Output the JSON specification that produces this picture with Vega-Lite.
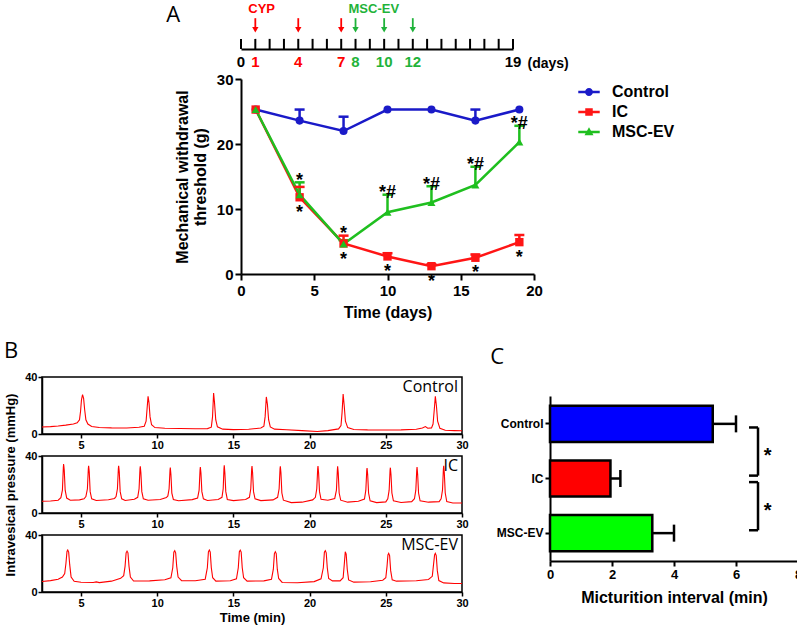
{
  "$schema": "https://vega.github.io/schema/vega-lite/v6.json",
  "padding": {"left": 4, "top": 3, "right": 0, "bottom": 0},
  "config": {
    "font": "Liberation Sans",
    "view": {"stroke": null},
    "axis": {"grid": false, "domainColor": "black", "tickColor": "black", "labelColor": "black", "titleColor": "black", "labelFontWeight": "bold", "titleFontWeight": "bold", "labelFlush": false, "labelOverlap": false, "domainWidth": 2, "tickWidth": 2},
    "title": {"font": "Open Sans", "fontWeight": "normal", "fontSize": 22, "color": "black", "anchor": "start", "frame": "bounds"}
  },
  "datasets": {
    "mwt": [
      {"day": 1, "group": "Control", "mean": 25.3},
      {"day": 4, "group": "Control", "mean": 23.6, "top": 25.3},
      {"day": 7, "group": "Control", "mean": 22.0, "top": 24.2},
      {"day": 10, "group": "Control", "mean": 25.3},
      {"day": 13, "group": "Control", "mean": 25.3},
      {"day": 16, "group": "Control", "mean": 23.6, "top": 25.3},
      {"day": 19, "group": "Control", "mean": 25.3},
      {"day": 1, "group": "IC", "mean": 25.3},
      {"day": 4, "group": "IC", "mean": 11.8, "top": 13.4, "below": "*"},
      {"day": 7, "group": "IC", "mean": 4.7, "top": 5.9, "above": "*"},
      {"day": 10, "group": "IC", "mean": 2.7, "top": 3.2, "below": "*"},
      {"day": 13, "group": "IC", "mean": 1.2, "top": 1.5, "below": "*"},
      {"day": 16, "group": "IC", "mean": 2.5, "top": 3.0, "below": "*"},
      {"day": 19, "group": "IC", "mean": 4.9, "top": 6.0, "below": "*"},
      {"day": 1, "group": "MSC-EV", "mean": 25.3},
      {"day": 4, "group": "MSC-EV", "mean": 12.2, "top": 14.1, "above": "*"},
      {"day": 7, "group": "MSC-EV", "mean": 4.6, "top": 5.2, "below": "*"},
      {"day": 10, "group": "MSC-EV", "mean": 9.5, "top": 12.2, "above": "*#"},
      {"day": 13, "group": "MSC-EV", "mean": 11.0, "top": 13.5, "above": "*#"},
      {"day": 16, "group": "MSC-EV", "mean": 13.7, "top": 16.5, "above": "*#"},
      {"day": 19, "group": "MSC-EV", "mean": 20.3, "top": 22.8, "above": "*#"}
    ],
    "timeline": [
      {"day": 0}, {"day": 1}, {"day": 2}, {"day": 3}, {"day": 4}, {"day": 5}, {"day": 6}, {"day": 7}, {"day": 8}, {"day": 9},
      {"day": 10}, {"day": 11}, {"day": 12}, {"day": 13}, {"day": 14}, {"day": 15}, {"day": 16}, {"day": 17}, {"day": 18}, {"day": 19}
    ],
    "injections": [
      {"day": 1, "agent": "CYP"}, {"day": 4, "agent": "CYP"}, {"day": 7, "agent": "CYP"},
      {"day": 8, "agent": "MSC-EV"}, {"day": 10, "agent": "MSC-EV"}, {"day": 12, "agent": "MSC-EV"}
    ],
    "interval": [
      {"group": "Control", "mean": 5.25, "err": 6.0},
      {"group": "IC", "mean": 1.95, "err": 2.27},
      {"group": "MSC-EV", "mean": 3.3, "err": 4.0}
    ],
    "comparisons": [
      {"a": "Control", "b": "IC", "sig": "*"},
      {"a": "IC", "b": "MSC-EV", "sig": "*"}
    ],
    "trace": [
      {"panel": "Control", "t": 2.44, "p": 4.9}, {"panel": "Control", "t": 3.0, "p": 5.2}, {"panel": "Control", "t": 3.5, "p": 5.6}, {"panel": "Control", "t": 4.0, "p": 6.2}, {"panel": "Control", "t": 4.5, "p": 7.0}, {"panel": "Control", "t": 4.75, "p": 7.8}, {"panel": "Control", "t": 4.9, "p": 10}, {"panel": "Control", "t": 4.97, "p": 16}, {"panel": "Control", "t": 5.03, "p": 24}, {"panel": "Control", "t": 5.1, "p": 27.6}, {"panel": "Control", "t": 5.17, "p": 25}, {"panel": "Control", "t": 5.24, "p": 17}, {"panel": "Control", "t": 5.32, "p": 10}, {"panel": "Control", "t": 5.45, "p": 7}, {"panel": "Control", "t": 5.7, "p": 5.3}, {"panel": "Control", "t": 6.2, "p": 4.6}, {"panel": "Control", "t": 7.0, "p": 4.3}, {"panel": "Control", "t": 8.0, "p": 4.2}, {"panel": "Control", "t": 8.8, "p": 4.7}, {"panel": "Control", "t": 9.15, "p": 5.5}, {"panel": "Control", "t": 9.27, "p": 9}, {"panel": "Control", "t": 9.33, "p": 17}, {"panel": "Control", "t": 9.4, "p": 26.4}, {"panel": "Control", "t": 9.46, "p": 22}, {"panel": "Control", "t": 9.53, "p": 12}, {"panel": "Control", "t": 9.63, "p": 6.5}, {"panel": "Control", "t": 9.85, "p": 4.5}, {"panel": "Control", "t": 10.5, "p": 4.0}, {"panel": "Control", "t": 11.5, "p": 3.9}, {"panel": "Control", "t": 12.5, "p": 3.7}, {"panel": "Control", "t": 13.3, "p": 3.8}, {"panel": "Control", "t": 13.55, "p": 4.8}, {"panel": "Control", "t": 13.63, "p": 12}, {"panel": "Control", "t": 13.7, "p": 28.8}, {"panel": "Control", "t": 13.76, "p": 22}, {"panel": "Control", "t": 13.84, "p": 10}, {"panel": "Control", "t": 13.95, "p": 5}, {"panel": "Control", "t": 14.3, "p": 3.4}, {"panel": "Control", "t": 15.0, "p": 3.1}, {"panel": "Control", "t": 16.0, "p": 3.3}, {"panel": "Control", "t": 16.8, "p": 4.2}, {"panel": "Control", "t": 17.0, "p": 5.5}, {"panel": "Control", "t": 17.08, "p": 12}, {"panel": "Control", "t": 17.16, "p": 26}, {"panel": "Control", "t": 17.23, "p": 21}, {"panel": "Control", "t": 17.31, "p": 10}, {"panel": "Control", "t": 17.42, "p": 5}, {"panel": "Control", "t": 17.7, "p": 3.4}, {"panel": "Control", "t": 18.5, "p": 3.0}, {"panel": "Control", "t": 19.5, "p": 2.4}, {"panel": "Control", "t": 20.5, "p": 1.8}, {"panel": "Control", "t": 21.2, "p": 2.4}, {"panel": "Control", "t": 21.9, "p": 3.6}, {"panel": "Control", "t": 22.06, "p": 6}, {"panel": "Control", "t": 22.13, "p": 15}, {"panel": "Control", "t": 22.2, "p": 28}, {"panel": "Control", "t": 22.27, "p": 20}, {"panel": "Control", "t": 22.35, "p": 9}, {"panel": "Control", "t": 22.5, "p": 4.5}, {"panel": "Control", "t": 22.9, "p": 3.2}, {"panel": "Control", "t": 23.8, "p": 2.9}, {"panel": "Control", "t": 25.0, "p": 2.8}, {"panel": "Control", "t": 26.0, "p": 2.9}, {"panel": "Control", "t": 27.0, "p": 3.3}, {"panel": "Control", "t": 27.4, "p": 4.2}, {"panel": "Control", "t": 27.6, "p": 5.2}, {"panel": "Control", "t": 27.75, "p": 4.0}, {"panel": "Control", "t": 28.0, "p": 4.3}, {"panel": "Control", "t": 28.1, "p": 7}, {"panel": "Control", "t": 28.18, "p": 17}, {"panel": "Control", "t": 28.25, "p": 26.4}, {"panel": "Control", "t": 28.32, "p": 20}, {"panel": "Control", "t": 28.4, "p": 9}, {"panel": "Control", "t": 28.55, "p": 4}, {"panel": "Control", "t": 28.9, "p": 2.6}, {"panel": "Control", "t": 29.5, "p": 2.4}, {"panel": "Control", "t": 30, "p": 2.3},
      {"panel": "IC", "t": 2.44, "p": 8.2}, {"panel": "IC", "t": 3.0, "p": 8.4}, {"panel": "IC", "t": 3.5, "p": 9.0}, {"panel": "IC", "t": 3.68, "p": 10.8}, {"panel": "IC", "t": 3.78, "p": 16}, {"panel": "IC", "t": 3.84, "p": 32}, {"panel": "IC", "t": 3.86, "p": 34.4}, {"panel": "IC", "t": 3.9, "p": 30}, {"panel": "IC", "t": 3.96, "p": 16}, {"panel": "IC", "t": 4.06, "p": 10.5}, {"panel": "IC", "t": 4.3, "p": 9.0}, {"panel": "IC", "t": 4.9, "p": 9.2}, {"panel": "IC", "t": 5.2, "p": 10.0}, {"panel": "IC", "t": 5.32, "p": 11.5}, {"panel": "IC", "t": 5.42, "p": 17}, {"panel": "IC", "t": 5.48, "p": 31}, {"panel": "IC", "t": 5.5, "p": 33.2}, {"panel": "IC", "t": 5.54, "p": 29}, {"panel": "IC", "t": 5.6, "p": 15}, {"panel": "IC", "t": 5.7, "p": 10}, {"panel": "IC", "t": 6.0, "p": 8.8}, {"panel": "IC", "t": 6.8, "p": 9.3}, {"panel": "IC", "t": 7.2, "p": 10.2}, {"panel": "IC", "t": 7.3, "p": 11.5}, {"panel": "IC", "t": 7.39, "p": 17}, {"panel": "IC", "t": 7.45, "p": 31}, {"panel": "IC", "t": 7.47, "p": 33.2}, {"panel": "IC", "t": 7.51, "p": 29}, {"panel": "IC", "t": 7.57, "p": 15}, {"panel": "IC", "t": 7.67, "p": 10}, {"panel": "IC", "t": 7.9, "p": 8.8}, {"panel": "IC", "t": 8.5, "p": 9.6}, {"panel": "IC", "t": 8.72, "p": 11}, {"panel": "IC", "t": 8.81, "p": 17}, {"panel": "IC", "t": 8.87, "p": 31}, {"panel": "IC", "t": 8.89, "p": 32.7}, {"panel": "IC", "t": 8.93, "p": 28}, {"panel": "IC", "t": 8.99, "p": 15}, {"panel": "IC", "t": 9.09, "p": 10}, {"panel": "IC", "t": 9.4, "p": 9.0}, {"panel": "IC", "t": 10.2, "p": 9.5}, {"panel": "IC", "t": 10.6, "p": 10.8}, {"panel": "IC", "t": 10.7, "p": 12}, {"panel": "IC", "t": 10.78, "p": 17}, {"panel": "IC", "t": 10.84, "p": 30}, {"panel": "IC", "t": 10.86, "p": 31.9}, {"panel": "IC", "t": 10.9, "p": 27}, {"panel": "IC", "t": 10.96, "p": 14}, {"panel": "IC", "t": 11.06, "p": 9.5}, {"panel": "IC", "t": 11.4, "p": 8.6}, {"panel": "IC", "t": 12.3, "p": 9.4}, {"panel": "IC", "t": 12.65, "p": 10.5}, {"panel": "IC", "t": 12.75, "p": 16}, {"panel": "IC", "t": 12.81, "p": 30}, {"panel": "IC", "t": 12.83, "p": 32.2}, {"panel": "IC", "t": 12.87, "p": 28}, {"panel": "IC", "t": 12.93, "p": 15}, {"panel": "IC", "t": 13.03, "p": 10}, {"panel": "IC", "t": 13.3, "p": 8.8}, {"panel": "IC", "t": 14.0, "p": 9.5}, {"panel": "IC", "t": 14.25, "p": 11}, {"panel": "IC", "t": 14.33, "p": 17}, {"panel": "IC", "t": 14.38, "p": 31}, {"panel": "IC", "t": 14.4, "p": 33.4}, {"panel": "IC", "t": 14.44, "p": 28}, {"panel": "IC", "t": 14.5, "p": 15}, {"panel": "IC", "t": 14.6, "p": 9.5}, {"panel": "IC", "t": 15.0, "p": 8.7}, {"panel": "IC", "t": 15.8, "p": 9.5}, {"panel": "IC", "t": 16.05, "p": 11}, {"panel": "IC", "t": 16.14, "p": 17}, {"panel": "IC", "t": 16.2, "p": 31}, {"panel": "IC", "t": 16.22, "p": 32.9}, {"panel": "IC", "t": 16.26, "p": 28}, {"panel": "IC", "t": 16.32, "p": 15}, {"panel": "IC", "t": 16.42, "p": 10}, {"panel": "IC", "t": 16.8, "p": 8.7}, {"panel": "IC", "t": 17.6, "p": 9.2}, {"panel": "IC", "t": 17.9, "p": 11}, {"panel": "IC", "t": 18.0, "p": 17}, {"panel": "IC", "t": 18.06, "p": 31}, {"panel": "IC", "t": 18.08, "p": 32.7}, {"panel": "IC", "t": 18.12, "p": 28}, {"panel": "IC", "t": 18.18, "p": 14}, {"panel": "IC", "t": 18.28, "p": 9}, {"panel": "IC", "t": 18.8, "p": 7.3}, {"panel": "IC", "t": 19.5, "p": 7.6}, {"panel": "IC", "t": 20.2, "p": 9.2}, {"panel": "IC", "t": 20.38, "p": 11}, {"panel": "IC", "t": 20.47, "p": 17}, {"panel": "IC", "t": 20.53, "p": 31}, {"panel": "IC", "t": 20.55, "p": 32.9}, {"panel": "IC", "t": 20.59, "p": 28}, {"panel": "IC", "t": 20.65, "p": 15}, {"panel": "IC", "t": 20.75, "p": 9.6}, {"panel": "IC", "t": 21.2, "p": 9.0}, {"panel": "IC", "t": 21.65, "p": 10.2}, {"panel": "IC", "t": 21.76, "p": 16}, {"panel": "IC", "t": 21.82, "p": 30}, {"panel": "IC", "t": 21.84, "p": 32.7}, {"panel": "IC", "t": 21.88, "p": 28}, {"panel": "IC", "t": 21.94, "p": 14}, {"panel": "IC", "t": 22.04, "p": 9}, {"panel": "IC", "t": 22.5, "p": 7.6}, {"panel": "IC", "t": 23.2, "p": 8.2}, {"panel": "IC", "t": 23.6, "p": 9.8}, {"panel": "IC", "t": 23.69, "p": 16}, {"panel": "IC", "t": 23.75, "p": 30}, {"panel": "IC", "t": 23.77, "p": 31.6}, {"panel": "IC", "t": 23.81, "p": 27}, {"panel": "IC", "t": 23.87, "p": 14}, {"panel": "IC", "t": 23.97, "p": 8.5}, {"panel": "IC", "t": 24.4, "p": 7.3}, {"panel": "IC", "t": 25.0, "p": 7.8}, {"panel": "IC", "t": 25.13, "p": 10}, {"panel": "IC", "t": 25.22, "p": 16}, {"panel": "IC", "t": 25.28, "p": 30}, {"panel": "IC", "t": 25.3, "p": 31.8}, {"panel": "IC", "t": 25.34, "p": 27}, {"panel": "IC", "t": 25.4, "p": 14}, {"panel": "IC", "t": 25.5, "p": 8.5}, {"panel": "IC", "t": 26.0, "p": 7.4}, {"panel": "IC", "t": 26.7, "p": 8.0}, {"panel": "IC", "t": 26.88, "p": 10}, {"panel": "IC", "t": 26.97, "p": 16}, {"panel": "IC", "t": 27.03, "p": 30}, {"panel": "IC", "t": 27.05, "p": 32.2}, {"panel": "IC", "t": 27.09, "p": 27}, {"panel": "IC", "t": 27.15, "p": 14}, {"panel": "IC", "t": 27.25, "p": 8.5}, {"panel": "IC", "t": 27.8, "p": 7.6}, {"panel": "IC", "t": 28.5, "p": 8.0}, {"panel": "IC", "t": 28.63, "p": 10}, {"panel": "IC", "t": 28.72, "p": 16}, {"panel": "IC", "t": 28.78, "p": 31}, {"panel": "IC", "t": 28.8, "p": 33.2}, {"panel": "IC", "t": 28.84, "p": 28}, {"panel": "IC", "t": 28.9, "p": 14}, {"panel": "IC", "t": 29.0, "p": 8.0}, {"panel": "IC", "t": 29.4, "p": 7.0}, {"panel": "IC", "t": 30, "p": 7.0},
      {"panel": "MSC-EV", "t": 2.44, "p": 7.4}, {"panel": "MSC-EV", "t": 3.0, "p": 8.0}, {"panel": "MSC-EV", "t": 3.5, "p": 9.0}, {"panel": "MSC-EV", "t": 3.78, "p": 10.5}, {"panel": "MSC-EV", "t": 3.93, "p": 13}, {"panel": "MSC-EV", "t": 4.01, "p": 20}, {"panel": "MSC-EV", "t": 4.08, "p": 28.4}, {"panel": "MSC-EV", "t": 4.13, "p": 29.4}, {"panel": "MSC-EV", "t": 4.19, "p": 28}, {"panel": "MSC-EV", "t": 4.26, "p": 19}, {"panel": "MSC-EV", "t": 4.35, "p": 10.5}, {"panel": "MSC-EV", "t": 4.55, "p": 7.5}, {"panel": "MSC-EV", "t": 5.0, "p": 6.8}, {"panel": "MSC-EV", "t": 5.8, "p": 6.7}, {"panel": "MSC-EV", "t": 6.0, "p": 7.1}, {"panel": "MSC-EV", "t": 6.2, "p": 6.6}, {"panel": "MSC-EV", "t": 7.0, "p": 7.6}, {"panel": "MSC-EV", "t": 7.6, "p": 9.6}, {"panel": "MSC-EV", "t": 7.8, "p": 11.5}, {"panel": "MSC-EV", "t": 7.89, "p": 18}, {"panel": "MSC-EV", "t": 7.96, "p": 27.5}, {"panel": "MSC-EV", "t": 8.02, "p": 28.7}, {"panel": "MSC-EV", "t": 8.08, "p": 27.5}, {"panel": "MSC-EV", "t": 8.15, "p": 18}, {"panel": "MSC-EV", "t": 8.24, "p": 10.5}, {"panel": "MSC-EV", "t": 8.45, "p": 7.7}, {"panel": "MSC-EV", "t": 9.5, "p": 7.8}, {"panel": "MSC-EV", "t": 10.5, "p": 8.6}, {"panel": "MSC-EV", "t": 10.9, "p": 10.0}, {"panel": "MSC-EV", "t": 11.02, "p": 17}, {"panel": "MSC-EV", "t": 11.09, "p": 28}, {"panel": "MSC-EV", "t": 11.15, "p": 29}, {"panel": "MSC-EV", "t": 11.21, "p": 27.5}, {"panel": "MSC-EV", "t": 11.28, "p": 18}, {"panel": "MSC-EV", "t": 11.37, "p": 10.5}, {"panel": "MSC-EV", "t": 11.6, "p": 8.0}, {"panel": "MSC-EV", "t": 12.5, "p": 7.9}, {"panel": "MSC-EV", "t": 13.15, "p": 9.0}, {"panel": "MSC-EV", "t": 13.29, "p": 17}, {"panel": "MSC-EV", "t": 13.36, "p": 28.2}, {"panel": "MSC-EV", "t": 13.42, "p": 29.4}, {"panel": "MSC-EV", "t": 13.48, "p": 28}, {"panel": "MSC-EV", "t": 13.55, "p": 17}, {"panel": "MSC-EV", "t": 13.64, "p": 10}, {"panel": "MSC-EV", "t": 13.85, "p": 7.6}, {"panel": "MSC-EV", "t": 14.8, "p": 7.9}, {"panel": "MSC-EV", "t": 15.2, "p": 9.2}, {"panel": "MSC-EV", "t": 15.32, "p": 17}, {"panel": "MSC-EV", "t": 15.39, "p": 28.3}, {"panel": "MSC-EV", "t": 15.45, "p": 29.4}, {"panel": "MSC-EV", "t": 15.51, "p": 28}, {"panel": "MSC-EV", "t": 15.58, "p": 17}, {"panel": "MSC-EV", "t": 15.67, "p": 10}, {"panel": "MSC-EV", "t": 15.9, "p": 7.6}, {"panel": "MSC-EV", "t": 17.0, "p": 7.8}, {"panel": "MSC-EV", "t": 17.5, "p": 9.0}, {"panel": "MSC-EV", "t": 17.62, "p": 16}, {"panel": "MSC-EV", "t": 17.69, "p": 27}, {"panel": "MSC-EV", "t": 17.75, "p": 28.3}, {"panel": "MSC-EV", "t": 17.81, "p": 27}, {"panel": "MSC-EV", "t": 17.88, "p": 16}, {"panel": "MSC-EV", "t": 17.97, "p": 9.5}, {"panel": "MSC-EV", "t": 18.2, "p": 6.7}, {"panel": "MSC-EV", "t": 19.2, "p": 6.5}, {"panel": "MSC-EV", "t": 20.3, "p": 7.3}, {"panel": "MSC-EV", "t": 20.75, "p": 9.3}, {"panel": "MSC-EV", "t": 20.9, "p": 17}, {"panel": "MSC-EV", "t": 20.97, "p": 28}, {"panel": "MSC-EV", "t": 21.03, "p": 29}, {"panel": "MSC-EV", "t": 21.09, "p": 27.5}, {"panel": "MSC-EV", "t": 21.16, "p": 17}, {"panel": "MSC-EV", "t": 21.25, "p": 9.5}, {"panel": "MSC-EV", "t": 21.5, "p": 7.8}, {"panel": "MSC-EV", "t": 22.0, "p": 7.8}, {"panel": "MSC-EV", "t": 22.2, "p": 10}, {"panel": "MSC-EV", "t": 22.28, "p": 20}, {"panel": "MSC-EV", "t": 22.34, "p": 28.3}, {"panel": "MSC-EV", "t": 22.4, "p": 26.5}, {"panel": "MSC-EV", "t": 22.47, "p": 16}, {"panel": "MSC-EV", "t": 22.56, "p": 8.5}, {"panel": "MSC-EV", "t": 22.9, "p": 6.9}, {"panel": "MSC-EV", "t": 24.0, "p": 7.2}, {"panel": "MSC-EV", "t": 24.8, "p": 8.3}, {"panel": "MSC-EV", "t": 25.0, "p": 10}, {"panel": "MSC-EV", "t": 25.08, "p": 18}, {"panel": "MSC-EV", "t": 25.14, "p": 26}, {"panel": "MSC-EV", "t": 25.19, "p": 27.1}, {"panel": "MSC-EV", "t": 25.25, "p": 25.5}, {"panel": "MSC-EV", "t": 25.32, "p": 15}, {"panel": "MSC-EV", "t": 25.42, "p": 8.5}, {"panel": "MSC-EV", "t": 25.7, "p": 7.6}, {"panel": "MSC-EV", "t": 27.0, "p": 7.9}, {"panel": "MSC-EV", "t": 27.8, "p": 8.8}, {"panel": "MSC-EV", "t": 28.05, "p": 11}, {"panel": "MSC-EV", "t": 28.13, "p": 19}, {"panel": "MSC-EV", "t": 28.2, "p": 26}, {"panel": "MSC-EV", "t": 28.25, "p": 27.1}, {"panel": "MSC-EV", "t": 28.31, "p": 25.5}, {"panel": "MSC-EV", "t": 28.38, "p": 15}, {"panel": "MSC-EV", "t": 28.48, "p": 8}, {"panel": "MSC-EV", "t": 28.8, "p": 6.4}, {"panel": "MSC-EV", "t": 29.5, "p": 6.0}, {"panel": "MSC-EV", "t": 30, "p": 6.0}
    ]
  },
  "resolve": {"scale": {"color": "independent", "shape": "independent"}},
  "spacing": 20,
  "vconcat": [
    {
      "spacing": 0,
      "hconcat": [
        {"width": 124, "height": 10, "data": {"name": "timeline"}, "mark": {"type": "point", "opacity": 0}, "encoding": {}},
        {
          "title": {"text": "A", "offset": -24, "dx": -8},
          "spacing": 2,
          "resolve": {"scale": {"color": "independent", "shape": "independent"}},
          "vconcat": [
            {
              "width": 272, "height": 46,
              "layer": [
                {
                  "data": {"name": "timeline"},
                  "mark": {"type": "rule", "strokeWidth": 2, "color": "black"},
                  "encoding": {
                    "x": {"field": "day", "type": "quantitative", "scale": {"domain": [0, 19], "nice": false, "zero": false},
                      "axis": {"values": [0, 19], "ticks": false, "tickSize": 0, "labels": false, "domainWidth": 2,
                        "title": "(days)", "titleX": 286, "titleY": 18, "titleAlign": "left", "titleBaseline": "alphabetic", "titleFontSize": 14, "titleAngle": 0}},
                    "y": {"datum": 0, "type": "quantitative", "scale": {"domain": [0, 1]}, "axis": null},
                    "y2": {"datum": 0.22}
                  }
                },
                {
                  "data": {"name": "timeline"},
                  "transform": [{"filter": "datum.day === 0 || datum.day === 19"}],
                  "mark": {"type": "text", "fontSize": 15, "fontWeight": "bold", "baseline": "alphabetic", "color": "black"},
                  "encoding": {
                    "x": {"field": "day", "type": "quantitative"},
                    "y": {"datum": -0.39, "type": "quantitative"},
                    "text": {"field": "day", "type": "quantitative"}
                  }
                },
                {
                  "data": {"name": "injections"},
                  "mark": {"type": "text", "fontSize": 15, "fontWeight": "bold", "baseline": "alphabetic"},
                  "encoding": {
                    "x": {"field": "day", "type": "quantitative"},
                    "y": {"datum": -0.39, "type": "quantitative"},
                    "text": {"field": "day", "type": "quantitative"},
                    "color": {"field": "agent", "type": "nominal", "scale": {"domain": ["CYP", "MSC-EV"], "range": ["#ff0000", "#1fb33a"]}, "legend": null}
                  }
                },
                {
                  "data": {"name": "injections"},
                  "mark": {"type": "rule", "strokeWidth": 1.8},
                  "encoding": {
                    "x": {"field": "day", "type": "quantitative"},
                    "y": {"datum": 0.67, "type": "quantitative"},
                    "y2": {"datum": 0.42},
                    "color": {"field": "agent", "type": "nominal", "legend": null}
                  }
                },
                {
                  "data": {"name": "injections"},
                  "mark": {"type": "point", "shape": "triangle-down", "filled": true, "size": 40, "opacity": 1},
                  "encoding": {
                    "x": {"field": "day", "type": "quantitative"},
                    "y": {"datum": 0.42, "type": "quantitative"},
                    "color": {"field": "agent", "type": "nominal", "legend": null}
                  }
                },
                {
                  "data": {"name": "injections"},
                  "transform": [{"aggregate": [{"op": "min", "field": "day", "as": "first"}], "groupby": ["agent"]}],
                  "mark": {"type": "text", "fontSize": 13, "fontWeight": "bold", "align": "left", "baseline": "middle", "dx": -7},
                  "encoding": {
                    "x": {"field": "first", "type": "quantitative"},
                    "y": {"datum": 0.86, "type": "quantitative"},
                    "text": {"field": "agent"},
                    "color": {"field": "agent", "type": "nominal", "legend": null}
                  }
                }
              ]
            },
            {
              "width": 293, "height": 195,
              "data": {"name": "mwt"},
              "encoding": {
                "x": {"field": "day", "type": "quantitative", "scale": {"domain": [0, 20], "nice": false},
                  "axis": {"values": [0, 5, 10, 15, 20], "title": "Time (days)", "labelFontSize": 15, "titleFontSize": 16, "tickSize": 6, "labelPadding": 3, "titlePadding": 6}}
              },
              "layer": [
                {
                  "mark": {"type": "line", "strokeWidth": 2.5},
                  "encoding": {
                    "y": {"field": "mean", "type": "quantitative", "scale": {"domain": [0, 30]},
                      "axis": {"values": [0, 10, 20, 30], "title": ["Mechanical withdrawal", "threshold (g)"], "labelFontSize": 15, "titleFontSize": 16, "titleLineHeight": 18, "tickSize": 6, "labelPadding": 2, "titlePadding": 8}},
                    "stroke": {"field": "group", "type": "nominal", "scale": {"domain": ["Control", "IC", "MSC-EV"], "range": ["#1a1ac8", "#ff1515", "#1fbf1f"]}, "legend": null}
                  }
                },
                {
                  "transform": [{"filter": "isValid(datum.top)"}],
                  "mark": {"type": "rule", "strokeWidth": 2.5},
                  "encoding": {
                    "y": {"field": "mean", "type": "quantitative"},
                    "y2": {"field": "top"},
                    "stroke": {"field": "group", "type": "nominal", "legend": null}
                  }
                },
                {
                  "transform": [{"filter": "isValid(datum.top)"}],
                  "mark": {"type": "tick", "orient": "horizontal", "size": 10, "thickness": 2.5, "opacity": 1},
                  "encoding": {
                    "y": {"field": "top", "type": "quantitative"},
                    "fill": {"field": "group", "type": "nominal", "scale": {"domain": ["Control", "IC", "MSC-EV"], "range": ["#1a1ac8", "#ff1515", "#1fbf1f"]}, "legend": null}
                  }
                },
                {
                  "mark": {"type": "point", "filled": true, "opacity": 0},
                  "encoding": {
                    "y": {"field": "mean", "type": "quantitative"},
                    "color": {"field": "group", "type": "nominal", "scale": {"domain": ["Control", "IC", "MSC-EV"], "range": ["#1a1ac8", "#ff1515", "#1fbf1f"]},
                      "legend": {"title": null, "orient": "right", "offset": 42, "padding": 2, "symbolSize": 460, "symbolStrokeWidth": 0, "symbolOpacity": 1, "labelFontSize": 16, "labelFontWeight": "bold", "labelColor": "black", "labelOffset": 12, "rowPadding": 1}},
                    "shape": {"field": "group", "type": "nominal",
                      "scale": {"domain": ["Control", "IC", "MSC-EV"], "range": ["M-1,-0.12H1V0.12H-1Z M-0.37,0A0.37,0.37 0 1,1 0.37,0A0.37,0.37 0 1,1 -0.37,0Z", "M-1,-0.12H1V0.12H-1Z M-0.35,-0.35H0.35V0.35H-0.35Z", "M-1,-0.12H1V0.12H-1Z M0,-0.45L0.42,0.3H-0.42Z"]},
                      "legend": {"title": null, "orient": "right", "offset": 42, "padding": 2, "symbolSize": 460, "symbolStrokeWidth": 0, "symbolOpacity": 1, "labelFontSize": 16, "labelFontWeight": "bold", "labelColor": "black", "labelOffset": 12, "rowPadding": 1}}
                  }
                },
                {
                  "transform": [{"filter": "datum.group === 'Control'"}],
                  "mark": {"type": "point", "shape": "circle", "filled": true, "size": 65, "opacity": 1, "strokeWidth": 0},
                  "encoding": {"y": {"field": "mean", "type": "quantitative"}, "fill": {"field": "group", "type": "nominal", "legend": null}}
                },
                {
                  "transform": [{"filter": "datum.group === 'IC'"}],
                  "mark": {"type": "point", "shape": "square", "filled": true, "size": 70, "opacity": 1, "strokeWidth": 0},
                  "encoding": {"y": {"field": "mean", "type": "quantitative"}, "fill": {"field": "group", "type": "nominal", "legend": null}}
                },
                {
                  "transform": [{"filter": "datum.group === 'MSC-EV'"}],
                  "mark": {"type": "point", "shape": "triangle-up", "filled": true, "size": 65, "opacity": 1, "strokeWidth": 0},
                  "encoding": {"y": {"field": "mean", "type": "quantitative"}, "fill": {"field": "group", "type": "nominal", "legend": null}}
                },
                {
                  "transform": [{"filter": "isValid(datum.above)"}],
                  "mark": {"type": "text", "fontSize": 18, "fontWeight": "bold", "baseline": "alphabetic", "dy": 3.5, "color": "black"},
                  "encoding": {"y": {"field": "top", "type": "quantitative"}, "text": {"field": "above"}}
                },
                {
                  "transform": [{"filter": "isValid(datum.below)"}],
                  "mark": {"type": "text", "fontSize": 18, "fontWeight": "bold", "baseline": "alphabetic", "dy": 20.5, "color": "black"},
                  "encoding": {"y": {"field": "mean", "type": "quantitative"}, "text": {"field": "below"}}
                }
              ]
            }
          ]
        }
      ]
    },
    {
      "spacing": 21,
      "hconcat": [
        {
          "title": {"text": "B", "offset": 7},
          "spacing": 22,
          "bounds": "flush",
          "vconcat": [
            {
              "width": 420, "height": 57,
              "view": {"stroke": "black", "strokeWidth": 1.5},
              "data": {"name": "trace"},
              "transform": [{"filter": "datum.panel === 'Control'"}],
              "layer": [
                {
                  "mark": {"type": "line", "color": "#ff0000", "strokeWidth": 1.1},
                  "encoding": {
                    "x": {"field": "t", "type": "quantitative", "scale": {"domain": [2.44, 30], "nice": false, "zero": false}, "axis": {"values": [5, 10, 15, 20, 25, 30], "title": null, "labelFontSize": 11, "tickSize": 4, "labelPadding": 1, "domainWidth": 1.5, "tickWidth": 1.5}},
                    "y": {"field": "p", "type": "quantitative", "scale": {"domain": [0, 40]}, "axis": {"values": [0, 20, 40], "title": null, "labelFontSize": 11, "tickSize": 4, "labelPadding": 1, "domainWidth": 1.5, "tickWidth": 1.5}}
                  }
                },
                {
                  "transform": [{"aggregate": [{"op": "count", "as": "n"}], "groupby": ["panel"]}],
                  "mark": {"type": "text", "font": "Open Sans", "fontSize": 16, "align": "right", "baseline": "alphabetic", "dx": -4, "dy": 15, "color": "black"},
                  "encoding": {"x": {"datum": 30}, "y": {"datum": 40}, "text": {"field": "panel"}}
                }
              ]
            },
            {
              "width": 420, "height": 57,
              "view": {"stroke": "black", "strokeWidth": 1.5},
              "data": {"name": "trace"},
              "transform": [{"filter": "datum.panel === 'IC'"}],
              "layer": [
                {
                  "mark": {"type": "line", "color": "#ff0000", "strokeWidth": 1.1},
                  "encoding": {
                    "x": {"field": "t", "type": "quantitative", "scale": {"domain": [2.44, 30], "nice": false, "zero": false}, "axis": {"values": [5, 10, 15, 20, 25, 30], "title": null, "labelFontSize": 11, "tickSize": 4, "labelPadding": 1, "domainWidth": 1.5, "tickWidth": 1.5}},
                    "y": {"field": "p", "type": "quantitative", "scale": {"domain": [0, 40]}, "axis": {"values": [0, 20, 40], "title": "Intravesical pressure (mmHg)", "titleFontSize": 13, "titlePadding": 7, "labelFontSize": 11, "tickSize": 4, "labelPadding": 1, "domainWidth": 1.5, "tickWidth": 1.5}}
                  }
                },
                {
                  "transform": [{"aggregate": [{"op": "count", "as": "n"}], "groupby": ["panel"]}],
                  "mark": {"type": "text", "font": "Open Sans", "fontSize": 16, "align": "right", "baseline": "alphabetic", "dx": -4, "dy": 15, "color": "black"},
                  "encoding": {"x": {"datum": 30}, "y": {"datum": 40}, "text": {"field": "panel"}}
                }
              ]
            },
            {
              "width": 420, "height": 57,
              "view": {"stroke": "black", "strokeWidth": 1.5},
              "data": {"name": "trace"},
              "transform": [{"filter": "datum.panel === 'MSC-EV'"}],
              "layer": [
                {
                  "mark": {"type": "line", "color": "#ff0000", "strokeWidth": 1.1},
                  "encoding": {
                    "x": {"field": "t", "type": "quantitative", "scale": {"domain": [2.44, 30], "nice": false, "zero": false}, "axis": {"values": [5, 10, 15, 20, 25, 30], "title": "Time (min)", "titleFontSize": 13, "titlePadding": 3, "labelFontSize": 11, "tickSize": 4, "labelPadding": 1, "domainWidth": 1.5, "tickWidth": 1.5}},
                    "y": {"field": "p", "type": "quantitative", "scale": {"domain": [0, 40]}, "axis": {"values": [0, 20, 40], "title": null, "labelFontSize": 11, "tickSize": 4, "labelPadding": 1, "domainWidth": 1.5, "tickWidth": 1.5}}
                  }
                },
                {
                  "transform": [{"aggregate": [{"op": "count", "as": "n"}], "groupby": ["panel"]}],
                  "mark": {"type": "text", "font": "Open Sans", "fontSize": 16, "align": "right", "baseline": "alphabetic", "dx": -4, "dy": 15, "color": "black"},
                  "encoding": {"x": {"datum": 30}, "y": {"datum": 40}, "text": {"field": "panel"}}
                }
              ]
            }
          ]
        },
        {
          "title": {"text": "C", "offset": 8, "dx": -6},
          "spacing": 4,
          "vconcat": [
            {"width": 248, "height": 15, "data": {"name": "interval"}, "mark": {"type": "point", "opacity": 0}, "encoding": {}},
            {
              "width": 248, "height": 165,
              "layer": [
                {
                  "data": {"name": "interval"},
                  "mark": {"type": "bar", "stroke": "black", "strokeWidth": 2.5},
                  "encoding": {
                    "x": {"field": "mean", "type": "quantitative", "scale": {"domain": [0, 8], "nice": false}, "axis": {"values": [0, 2, 4, 6, 8], "title": "Micturition interval (min)", "labelFontSize": 13, "titleFontSize": 16, "tickSize": 5, "labelPadding": 2, "titlePadding": 8}},
                    "y": {"field": "group", "type": "nominal", "scale": {"domain": ["Control", "IC", "MSC-EV"], "paddingInner": 0.34, "paddingOuter": 0.18}, "axis": {"title": null, "labelFontSize": 12, "tickSize": 5, "labelPadding": 2}},
                    "color": {"field": "group", "type": "nominal", "scale": {"domain": ["Control", "IC", "MSC-EV"], "range": ["#0000ff", "#ff0000", "#00ff00"]}, "legend": null}
                  }
                },
                {
                  "data": {"name": "interval"},
                  "mark": {"type": "rule", "strokeWidth": 2.5, "color": "black"},
                  "encoding": {"x": {"field": "mean", "type": "quantitative"}, "x2": {"field": "err"}, "y": {"field": "group", "type": "nominal"}}
                },
                {
                  "data": {"name": "interval"},
                  "mark": {"type": "tick", "orient": "vertical", "size": 17, "thickness": 2.5, "color": "black", "opacity": 1},
                  "encoding": {"x": {"field": "err", "type": "quantitative"}, "y": {"field": "group", "type": "nominal"}}
                },
                {
                  "data": {"name": "comparisons"},
                  "mark": {"type": "rule", "strokeWidth": 2.5, "color": "black"},
                  "encoding": {"x": {"datum": 6.71}, "y": {"field": "a", "type": "nominal", "bandPosition": 0.6}, "y2": {"field": "b", "bandPosition": 0.42}}
                },
                {
                  "data": {"name": "comparisons"},
                  "mark": {"type": "rule", "strokeWidth": 2.5, "color": "black"},
                  "encoding": {"x": {"datum": 6.42}, "x2": {"datum": 6.71}, "y": {"field": "a", "type": "nominal", "bandPosition": 0.6}}
                },
                {
                  "data": {"name": "comparisons"},
                  "mark": {"type": "rule", "strokeWidth": 2.5, "color": "black"},
                  "encoding": {"x": {"datum": 6.42}, "x2": {"datum": 6.71}, "y": {"field": "b", "type": "nominal", "bandPosition": 0.42}}
                },
                {
                  "data": {"name": "comparisons"},
                  "mark": {"type": "text", "fontSize": 20, "fontWeight": "bold", "baseline": "alphabetic", "dy": 11, "color": "black"},
                  "encoding": {"x": {"datum": 7.02}, "y": {"field": "a", "type": "nominal", "bandPosition": 1.26}, "text": {"field": "sig"}}
                }
              ]
            }
          ]
        }
      ]
    }
  ]
}
